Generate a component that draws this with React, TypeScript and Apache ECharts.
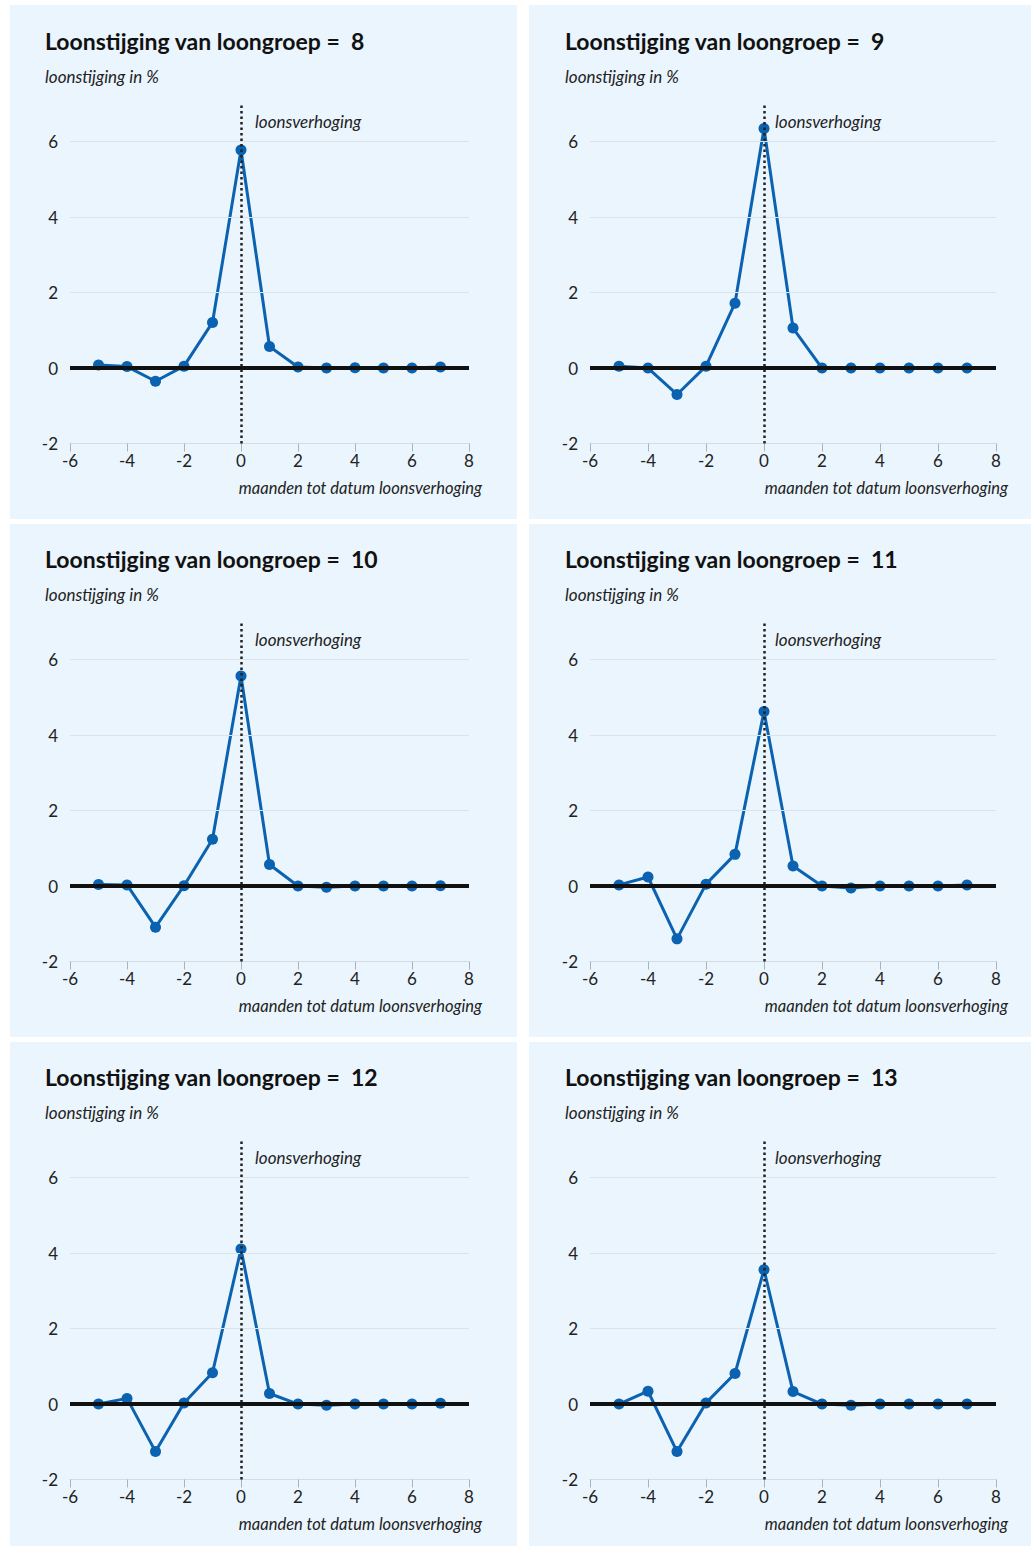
import React, { useEffect, useRef } from "react";
import * as echarts from "echarts";

// ---- data ----
const months = [-5, -4, -3, -2, -1, 0, 1, 2, 3, 4, 5, 6, 7];
const groups = ["8", "9", "10", "11", "12", "13"];
const loongroep8 = [0.08, 0.04, -0.35, 0.05, 1.21, 5.78, 0.57, 0.03, 0, 0.01, 0, 0, 0.03];
const loongroep9 = [0.05, 0, -0.7, 0.05, 1.72, 6.35, 1.06, 0, 0, 0, 0, 0, 0];
const loongroep10 = [0.04, 0.03, -1.09, 0.01, 1.24, 5.57, 0.57, 0, -0.03, 0, 0, 0, 0.01];
const loongroep11 = [0.03, 0.24, -1.4, 0.05, 0.84, 4.63, 0.53, 0, -0.05, 0, 0, 0, 0.03];
const loongroep12 = [0, 0.15, -1.26, 0.03, 0.83, 4.11, 0.28, 0, -0.03, 0, 0, 0, 0.02];
const loongroep13 = [0, 0.34, -1.26, 0.03, 0.81, 3.56, 0.33, 0, -0.03, 0, 0, 0, 0];
const seriesValues = [loongroep8, loongroep9, loongroep10, loongroep11, loongroep12, loongroep13];
const gridlineValues = [2, 4, 6];
const xMin = -6, xMax = 8, xStep = 2;
const yMin = -2, yMax = 7, yStep = 2;
const eventMonth = 0;

const titleText = "Loonstijging van loongroep =  ";
const yName = "loonstijging in %";
const xName = "maanden tot datum loonsverhoging";
const eventLabel = "loonsverhoging";

// ---- layout ----
const W = 1031, H = 1546;
const panelX = [10, 529];
const panelW = [507, 502];
const panelY = [5, 524, 1042];
const panelH = [514, 513, 504];
const gridLeft = [70, 590];
const gridW = [399, 406];
const gridTop0 = 104;
const rowStep = 518;
const gridH = 339.5;
const FONT = "Lato, 'Open Sans', sans-serif";
const BLUE = "#0b62b0";

export default function App() {
  const ref = useRef<HTMLDivElement>(null);
  useEffect(() => {
    if (!ref.current) return;
    const chart = echarts.init(ref.current, undefined, { renderer: "svg" });
    const grids: any[] = [];
    const xAxes: any[] = [];
    const yAxes: any[] = [];
    const series: any[] = [];
    const graphics: any[] = [];
    groups.forEach((g, i) => {
      const col = i % 2;
      const row = Math.floor(i / 2);
      grids.push({ left: gridLeft[col], top: gridTop0 + rowStep * row, width: gridW[col], height: gridH });
      xAxes.push({
        type: "value", gridIndex: i, min: xMin, max: xMax, interval: xStep,
        axisLine: { show: true, onZero: false, lineStyle: { color: "#d3dbe3", width: 1 } },
        axisTick: { show: true, length: 8, lineStyle: { color: "#aab3bc" } },
        axisLabel: { fontSize: 17, color: "#222", margin: 8, fontFamily: FONT },
        splitLine: { show: false },
      });
      yAxes.push({
        type: "value", gridIndex: i, min: yMin, max: yMax, interval: yStep,
        axisLine: { show: false }, axisTick: { show: false },
        axisLabel: {
          fontSize: 17, color: "#222", margin: 12, fontFamily: FONT,
          formatter: (v: number) => (v === yMax ? "" : String(v)),
        },
        splitLine: { show: false },
      });
      // gridlines
      series.push({
        type: "line", xAxisIndex: i, yAxisIndex: i, data: [], silent: true, z: 1,
        markLine: {
          silent: true, symbol: ["none", "none"], label: { show: false },
          lineStyle: { color: "#dae2ea", width: 1, type: "solid" },
          data: gridlineValues.map((v) => ({ yAxis: v })),
        },
      });
      // zero line
      series.push({
        type: "line", xAxisIndex: i, yAxisIndex: i, data: [], silent: true, z: 2,
        markLine: {
          silent: true, symbol: ["none", "none"], label: { show: false },
          lineStyle: { color: "#111", width: 4, type: "solid" },
          data: [{ yAxis: 0 }],
        },
      });
      // data
      series.push({
        type: "line", xAxisIndex: i, yAxisIndex: i, z: 3,
        data: months.map((m, k) => [m, seriesValues[i][k]]),
        symbol: "circle", symbolSize: 11, showSymbol: true,
        lineStyle: { color: BLUE, width: 3 },
        itemStyle: { color: BLUE },
      });
      // dotted event line
      series.push({
        type: "line", xAxisIndex: i, yAxisIndex: i, data: [], silent: true, z: 4,
        markLine: {
          silent: true, symbol: ["none", "none"], label: { show: false },
          lineStyle: { color: "#222", width: 2.5, type: [2.5, 3] },
          data: [{ xAxis: eventMonth }],
        },
      });
      const ox = col === 0 ? 45 : 565;
      const dy = rowStep * row;
      graphics.push({
        type: "text", x: ox, y: 41 + dy,
        style: { text: titleText + g, font: `bold 23px ${FONT}`, fill: "#111", textVerticalAlign: "middle" },
      });
      graphics.push({
        type: "text", x: ox, y: 76 + dy,
        style: { text: yName, font: `italic 17px ${FONT}`, fill: "#222", textVerticalAlign: "middle" },
      });
      graphics.push({
        type: "text", x: col === 0 ? 255 : 775, y: 121 + dy,
        style: { text: eventLabel, font: `italic 17px ${FONT}`, fill: "#222", textVerticalAlign: "middle" },
      });
      graphics.push({
        type: "text", x: col === 0 ? 482 : 1008, y: 488 + dy,
        style: { text: xName, font: `italic 16.5px ${FONT}`, fill: "#222", textAlign: "right", textVerticalAlign: "middle" },
      });
    });
    chart.setOption({
      animation: false,
      backgroundColor: "transparent",
      grid: grids,
      xAxis: xAxes,
      yAxis: yAxes,
      series,
      graphic: { elements: graphics },
    });
    return () => chart.dispose();
  }, []);

  const panels: any[] = [];
  for (let r = 0; r < 3; r++) {
    for (let c = 0; c < 2; c++) {
      panels.push(
        <div
          key={`${r}-${c}`}
          style={{
            position: "absolute", left: panelX[c], top: panelY[r], width: panelW[c], height: panelH[r],
            background: "#eaf5fd",
          }}
        />
      );
    }
  }
  return (
    <div style={{ position: "absolute", left: 0, top: 0, width: W, height: H, background: "#fff" }}>
      {panels}
      <div ref={ref} style={{ position: "absolute", left: 0, top: 0, width: W, height: H }} />
    </div>
  );
}
